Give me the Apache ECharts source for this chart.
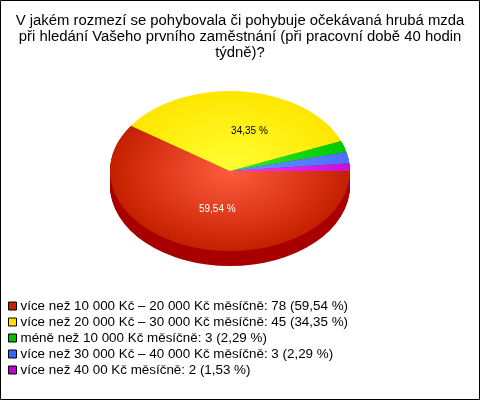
<!DOCTYPE html>
<html><head><meta charset="utf-8">
<style>html,body{margin:0;padding:0;background:#fff}#c{width:480px;height:400px}</style>
<script src="https://cdn.jsdelivr.net/npm/echarts@6/dist/echarts.min.js"></script>
</head><body><div id="c"></div>
<script>
const categories = [
  'více než 10 000 Kč – 20 000 Kč měsíčně',
  'více než 20 000 Kč – 30 000 Kč měsíčně',
  'méně než 10 000 Kč měsíčně',
  'více než 30 000 Kč – 40 000 Kč měsíčně',
  'více než 40 00 Kč měsíčně'
];
const values = [78, 45, 3, 3, 2];
const swatch = ['#c82200', '#ffdd00', '#00c000', '#3366ff', '#c000d0'];
const inner  = ['#ff5c3e', '#ffff33', '#33ee33', '#6f8fff', '#ff33ff'];
const outer  = ['#c42000', '#ffe600', '#00c800', '#4a70ff', '#c810d8'];
const side   = ['#a80000', '#b09800', '#008000', '#2040b0', '#800090'];
const titleLines = [
  'V jakém rozmezí se pohybovala či pohybuje očekávaná hrubá mzda',
  'při hledání Vašeho prvního zaměstnání (při pracovní době 40 hodin',
  'týdně)?'
];

const total = values.reduce((a, b) => a + b, 0);
const pctText = v => (v / total * 100).toFixed(2).replace('.', ',') + ' %';
const CX = 230, CY = 171, RX = 120, RY = 80, DEPTH = 15;
const labelShift = [5, 13], labelColor = ['#fff', '#000'];

function angleRange(i) {
  const before = values.slice(0, i).reduce((a, b) => a + b, 0);
  return [before / total * Math.PI * 2, (before + values[i]) / total * Math.PI * 2];
}
function sector(i, dy, fill, z2) {
  const [a0, a1] = angleRange(i);
  return {
    type: 'group', x: CX, y: CY + dy, scaleY: RY / RX, silent: true,
    children: [{
      type: 'sector', z2,
      shape: { cx: 0, cy: 0, r: RX, r0: 0, startAngle: a0, endAngle: a1, clockwise: true },
      style: { fill }
    }]
  };
}
const series = categories.map((name, i) => ({
  type: 'custom', name, coordinateSystem: 'none', silent: true, animation: false,
  itemStyle: { color: swatch[i] },
  data: [[values[i]]],
  renderItem() {
    const children = [];
    for (let d = DEPTH; d >= 1; d--) children.push(sector(i, d, side[i], 1));
    children.push(sector(i, 0, {
      type: 'radial', x: 0, y: 0, r: RX, global: true,
      colorStops: [{ offset: 0, color: inner[i] }, { offset: 1, color: outer[i] }]
    }, 2));
    if (values[i] / total > 0.05) {
      const [a0, a1] = angleRange(i), m = (a0 + a1) / 2;
      children.push({
        type: 'text', z2: 5,
        x: CX + Math.cos(m) * RX * 0.5 + labelShift[i],
        y: CY + Math.sin(m) * RY * 0.5,
        style: {
          text: pctText(values[i]), fill: labelColor[i], align: 'center', verticalAlign: 'middle',
          font: '10px "Liberation Sans", Arial, sans-serif'
        }
      });
    }
    return { type: 'group', children };
  }
}));

const chart = echarts.init(document.getElementById('c'), null, { renderer: 'canvas' });
chart.setOption({
  backgroundColor: '#fff',
  animation: false,
  title: {
    text: titleLines.join('\n'), left: 240, top: 13, textAlign: 'center', padding: 0,
    textStyle: { fontFamily: '"Liberation Sans", Arial, sans-serif', fontSize: 14.87, fontWeight: 'normal', color: '#000', lineHeight: 16 }
  },
  legend: {
    orient: 'vertical', left: 8, top: 299, padding: 0, itemGap: 2, itemWidth: 8, itemHeight: 8,
    icon: 'rect', selectedMode: false,
    itemStyle: { borderColor: '#000', borderWidth: 1 },
    formatter: n => { const i = categories.indexOf(n); return `${n}: ${values[i]} (${pctText(values[i])})`; },
    textStyle: { fontFamily: '"Liberation Sans", Arial, sans-serif', fontSize: 13.4, color: '#000', lineHeight: 14, padding: [0, 0, 0, -1] },
    data: categories
  },
  graphic: [{ type: 'rect', silent: true, z: 100, shape: { x: 0.5, y: 0.5, width: 479, height: 399 }, style: { fill: 'none', stroke: '#000', lineWidth: 1 } }],
  series
});
</script></body></html>
